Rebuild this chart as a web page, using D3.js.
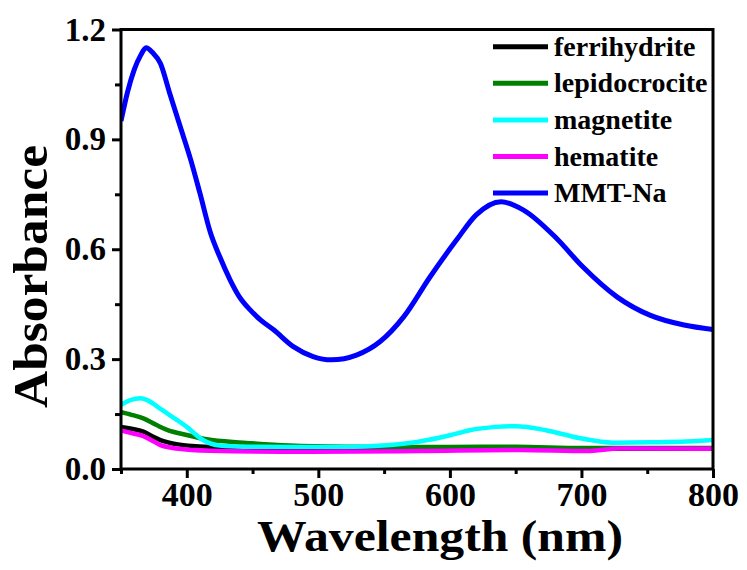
<!DOCTYPE html>
<html>
<head>
<meta charset="utf-8">
<script src="https://cdn.jsdelivr.net/npm/d3@7"></script>
<style>
  html, body { margin: 0; padding: 0; background: #fff; }
  svg { display: block; }
  text { font-family: "Liberation Serif", "Times New Roman", serif; font-weight: bold; fill: #000; }
</style>
</head>
<body>
<svg id="chart" width="747" height="570"></svg>
<script>
// UV-Vis absorbance spectra
const seriesNames = ["ferrihydrite", "lepidocrocite", "magnetite", "hematite", "MMT-Na"];
const seriesColors = ["#000000", "#008000", "#00ffff", "#ff00ff", "#0000ff"];

const ferrihydriteWl  = [350, 358, 367, 375, 380, 392, 413, 450, 500, 600, 700, 800];
const ferrihydriteAbs = [0.115, 0.110, 0.102, 0.087, 0.079, 0.068, 0.061, 0.058, 0.056, 0.056, 0.055, 0.056];

const lepidocrociteWl  = [350, 358, 367, 377, 385, 400, 415, 443, 478, 520, 600, 650, 700, 750, 800];
const lepidocrociteAbs = [0.155, 0.148, 0.138, 0.120, 0.107, 0.093, 0.081, 0.072, 0.064, 0.061, 0.060, 0.061, 0.057, 0.057, 0.057];

const magnetiteWl  = [350, 357, 365, 370, 377, 385, 400, 412, 425, 443, 480, 520, 549, 577, 600, 615, 635, 650, 673, 699, 724, 754, 780, 800];
const magnetiteAbs = [0.175, 0.188, 0.193, 0.188, 0.172, 0.152, 0.115, 0.080, 0.064, 0.061, 0.060, 0.060, 0.064, 0.075, 0.092, 0.106, 0.115, 0.117, 0.106, 0.084, 0.072, 0.073, 0.075, 0.079];

const hematiteWl  = [350, 358, 367, 375, 380, 392, 418, 494, 577, 653, 704, 729, 800];
const hematiteAbs = [0.105, 0.098, 0.090, 0.075, 0.065, 0.056, 0.050, 0.047, 0.049, 0.052, 0.049, 0.056, 0.055];

const mmtWl  = [350, 355, 360, 365, 369, 374, 380, 387, 395, 403, 410, 418, 425, 433, 440, 448, 456, 466, 481, 496, 510, 529, 547, 565, 585, 605, 620, 639, 656, 681, 701, 727, 752, 778, 800];
const mmtAbs = [0.950, 1.030, 1.090, 1.130, 1.150, 1.137, 1.107, 1.026, 0.935, 0.844, 0.753, 0.645, 0.580, 0.516, 0.470, 0.435, 0.407, 0.380, 0.334, 0.307, 0.298, 0.311, 0.348, 0.416, 0.525, 0.625, 0.694, 0.730, 0.707, 0.630, 0.552, 0.470, 0.420, 0.393, 0.381];

const xMajorTicks = [400, 500, 600, 700, 800];
const xMinorTicks = [350, 450, 550, 650, 750];
const yMajorTicks = [0.0, 0.3, 0.6, 0.9, 1.2];
const yMinorTicks = [0.15, 0.45, 0.75, 1.05];

const series = [
  { name: seriesNames[0], color: seriesColors[0], wl: ferrihydriteWl, abs: ferrihydriteAbs },
  { name: seriesNames[1], color: seriesColors[1], wl: lepidocrociteWl, abs: lepidocrociteAbs },
  { name: seriesNames[2], color: seriesColors[2], wl: magnetiteWl, abs: magnetiteAbs },
  { name: seriesNames[3], color: seriesColors[3], wl: hematiteWl, abs: hematiteAbs },
  { name: seriesNames[4], color: seriesColors[4], wl: mmtWl, abs: mmtAbs }
];

const svg = d3.select("#chart");
const plotLeft = 121, plotRight = 713, plotTop = 29.5, plotBottom = 469;

const x = d3.scaleLinear().domain([350, 800]).range([plotLeft, plotRight]);
const y = d3.scaleLinear().domain([0, 1.2]).range([plotBottom, plotTop]);

// data curves, clipped to the plot frame
svg.append("clipPath").attr("id", "plotClip")
  .append("rect").attr("x", plotLeft).attr("y", plotTop)
  .attr("width", plotRight - plotLeft).attr("height", plotBottom - plotTop);

const line = d3.line()
  .x(d => x(d[0]))
  .y(d => y(d[1]))
  .curve(d3.curveMonotoneX);

const curves = svg.append("g").attr("clip-path", "url(#plotClip)");
series.forEach(s => {
  curves.append("path")
    .datum(s.wl.map((w, i) => [w, s.abs[i]]))
    .attr("fill", "none")
    .attr("stroke", s.color)
    .attr("stroke-width", s.name === "MMT-Na" ? 5 : 4.5)
    .attr("stroke-linejoin", "round")
    .attr("d", line);
});

// bottom axis
const xAxisMajor = d3.axisBottom(x).tickValues(xMajorTicks).tickSize(9).tickPadding(4).tickFormat(d3.format("d"));
const xAxisMinor = d3.axisBottom(x).tickValues(xMinorTicks).tickSize(5);
const gxMin = svg.append("g").attr("transform", `translate(0,${plotBottom})`).call(xAxisMinor);
const gx = svg.append("g").attr("transform", `translate(0,${plotBottom})`).call(xAxisMajor);

// left axis
const yAxisMajor = d3.axisLeft(y).tickValues(yMajorTicks).tickSize(9).tickPadding(6).tickFormat(d3.format(".1f"));
const yAxisMinor = d3.axisLeft(y).tickValues(yMinorTicks).tickSize(6);
const gyMin = svg.append("g").attr("transform", `translate(${plotLeft},0)`).call(yAxisMinor);
const gy = svg.append("g").attr("transform", `translate(${plotLeft},0)`).call(yAxisMajor);

// minor ticks carry no labels
gxMin.selectAll(".tick text").remove();
gyMin.selectAll(".tick text").remove();

[gx, gxMin, gy, gyMin].forEach(g => {
  g.select(".domain").remove();
  g.selectAll(".tick line").attr("stroke", "#000").attr("stroke-width", 3);
  g.selectAll(".tick text")
    .attr("font-family", "'Liberation Serif', 'Times New Roman', serif")
    .attr("font-weight", "bold")
    .attr("fill", "#000");
});
gx.selectAll(".tick text").attr("font-size", 34);
gy.selectAll(".tick text").attr("font-size", 33);

// frame
svg.append("rect")
  .attr("x", plotLeft).attr("y", plotTop)
  .attr("width", plotRight - plotLeft).attr("height", plotBottom - plotTop)
  .attr("fill", "none").attr("stroke", "#000").attr("stroke-width", 3);

// axis titles
svg.append("text")
  .attr("x", 440).attr("y", 551)
  .attr("text-anchor", "middle")
  .attr("font-size", 45)
  .attr("textLength", 366)
  .attr("lengthAdjust", "spacingAndGlyphs")
  .text("Wavelength (nm)");

svg.append("text")
  .attr("transform", "translate(47,276.5) rotate(-90)")
  .attr("text-anchor", "middle")
  .attr("font-size", 48)
  .attr("textLength", 263)
  .attr("lengthAdjust", "spacingAndGlyphs")
  .text("Absorbance");

// legend
const legend = svg.append("g");
series.forEach((s, i) => {
  const ly = 46.7 + i * 36.6;
  legend.append("line")
    .attr("x1", 493).attr("x2", 548)
    .attr("y1", ly).attr("y2", ly)
    .attr("stroke", s.color).attr("stroke-width", 5);
  legend.append("text")
    .attr("x", 554).attr("y", ly + 9)
    .attr("font-size", 28)
    .text(s.name);
});
</script>
</body>
</html>
